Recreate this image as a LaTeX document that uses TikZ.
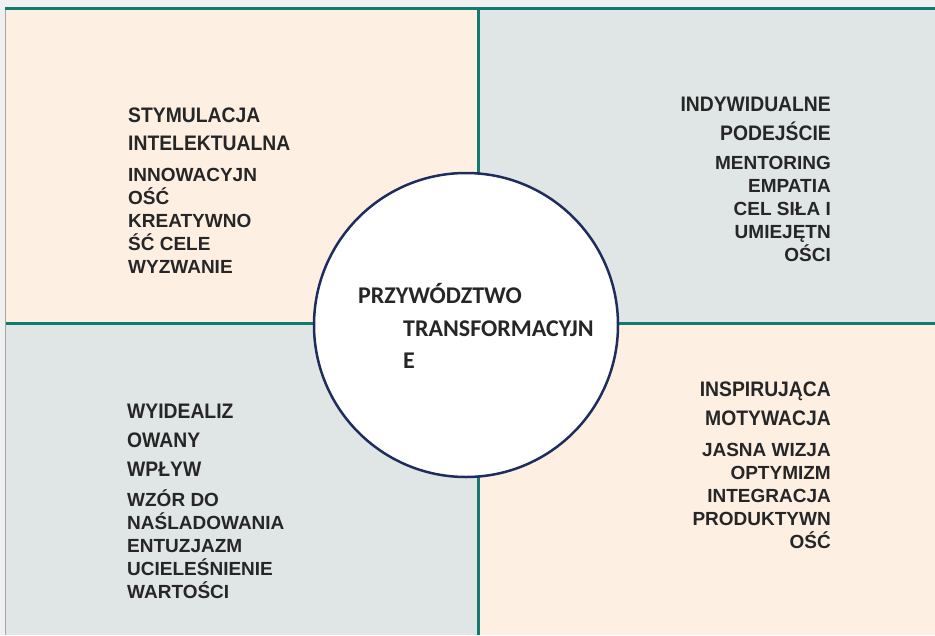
\documentclass[tikz,border=0pt]{standalone}
\usepackage{fontspec}
\setmainfont{Liberation Sans}
\newfontfamily\headfont[FakeStretch=0.92]{Liberation Sans}
\newfontfamily\corefont{Carlito}
\usetikzlibrary{positioning}
\definecolor{peach}{HTML}{FDEFE2}
\definecolor{mist}{HTML}{DFE6E5}
\definecolor{gridteal}{HTML}{137A71}
\definecolor{ink}{HTML}{262626}
\definecolor{navy}{HTML}{1F2D5E}
\definecolor{frame}{HTML}{F0F0F0}
\tikzset{head/.style={font=\headfont\bfseries\fontsize{21}{25}\selectfont,text=ink,inner sep=0pt}}
\tikzset{body/.style={font=\bfseries\fontsize{19}{23}\selectfont,text=ink,inner sep=0pt}}
\tikzset{coretext/.style={font=\corefont\bfseries\fontsize{24}{28}\selectfont,text=ink,inner sep=0pt,anchor=base west}}
\tikzset{divider/.style={gridteal,line width=3pt}}

\begin{document}
\begin{tikzpicture}[x=1pt,y=-1pt]
      \useasboundingbox (0,0) rectangle (935,635);
      \fill[frame] (0,0) rectangle (935,635);
      % quadrants
      \fill[peach] (6,9) rectangle (478,323);
      \fill[mist] (478,9) rectangle (935,323);
      \fill[mist] (6,323) rectangle (478,635);
      \fill[peach] (478,323) rectangle (935,635);
      \draw[gray!70,line width=1pt] (5.5,8) -- (5.5,635);
      \draw[divider] (5,8.7) -- (935,8.7);
      \draw[divider] (478.3,8.7) -- (478.3,635);
      \draw[divider] (5.5,323.5) -- (935,323.5);
      % centre
      \node[circle,draw=navy,line width=2.5pt,fill=white,minimum size=304pt,inner sep=0pt] (core) at (466,325) {};
      \node[coretext] (core-1) at (358,303) {PRZYWÓDZTWO};
      \node[coretext] (core-2) at (403,336) {TRANSFORMACYJN};
      \node[coretext] (core-3) at (403,368) {E};
      % top left
      \foreach \txt [count=\i] in {STYMULACJA,INTELEKTUALNA}
        \node[head,anchor=base west] (tl-h\i) at (128,{122+28*(\i-1)}) {\txt};
      \foreach \txt [count=\i] in {INNOWACYJN,OŚĆ,KREATYWNO,ŚĆ CELE,WYZWANIE}
        \node[body,anchor=base west] (tl-b\i) at (128,{181+23*(\i-1)}) {\txt};
      % top right
      \foreach \txt [count=\i] in {INDYWIDUALNE,PODEJŚCIE}
        \node[head,anchor=base east] (tr-h\i) at (831,{111+29*(\i-1)}) {\txt};
      \foreach \txt [count=\i] in {MENTORING,EMPATIA,CEL SIŁA I,UMIEJĘTN,OŚCI}
        \node[body,anchor=base east] (tr-b\i) at (831,{169+23*(\i-1)}) {\txt};
      % bottom left
      \foreach \txt [count=\i] in {WYIDEALIZ,OWANY,WPŁYW}
        \node[head,anchor=base west] (bl-h\i) at (127,{418+29*(\i-1)}) {\txt};
      \foreach \txt [count=\i] in {WZÓR DO,NAŚLADOWANIA,ENTUZJAZM,UCIELEŚNIENIE,WARTOŚCI}
        \node[body,anchor=base west] (bl-b\i) at (127,{506+23*(\i-1)}) {\txt};
      % bottom right
      \foreach \txt [count=\i] in {INSPIRUJĄCA,MOTYWACJA}
        \node[head,anchor=base east] (br-h\i) at (831,{396+29*(\i-1)}) {\txt};
      \foreach \txt [count=\i] in {JASNA WIZJA,OPTYMIZM,INTEGRACJA,PRODUKTYWN,OŚĆ}
        \node[body,anchor=base east] (br-b\i) at (831,{456+23*(\i-1)}) {\txt};
    \end{tikzpicture}
\end{document}
